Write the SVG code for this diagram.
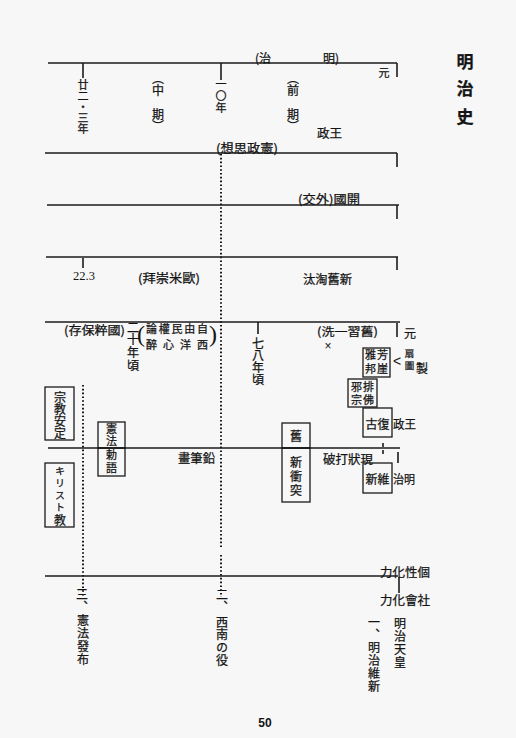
<svg xmlns="http://www.w3.org/2000/svg" width="516" height="738" viewBox="0 0 516 738">
<style>
.t{font-family:"Noto Sans CJK JP","Noto Sans CJK SC",sans-serif;font-size:12px;fill:#141414;stroke:#141414;stroke-width:0.25;dominant-baseline:central}
.v{font-family:"Noto Sans CJK JP","Noto Sans CJK SC",sans-serif;font-size:12px;fill:#141414;stroke:#141414;stroke-width:0.25;writing-mode:vertical-rl}
.m{text-anchor:middle}
.s{font-size:11px}
.ln{stroke:#1b1b1b;stroke-width:1.6;fill:none}
.tk{stroke:#1b1b1b;stroke-width:1.6;fill:none}
.dot{stroke:#1b1b1b;stroke-width:2;stroke-dasharray:1.6 2.2;fill:none}
.box{stroke:#1b1b1b;stroke-width:1.3;fill:none}
.sf{font-family:"Liberation Serif",serif;fill:#141414}
</style>
<rect width="516" height="738" fill="#f7f7f7"/>

<g id="connectors">
  <line class="ln" x1="48" y1="63" x2="397" y2="63"/>
  <line class="tk" x1="397" y1="63" x2="397" y2="77"/>
  <line class="tk" x1="83" y1="63" x2="83" y2="78"/>
  <line class="tk" x1="221" y1="63" x2="221" y2="80"/>
  <line class="ln" x1="45" y1="153" x2="397" y2="153"/>
  <line class="tk" x1="397" y1="153" x2="397" y2="167"/>
  <line class="ln" x1="47" y1="205" x2="399" y2="205"/>
  <line class="tk" x1="397" y1="205" x2="397" y2="219"/>
  <line class="ln" x1="46" y1="257" x2="398" y2="257"/>
  <line class="tk" x1="397" y1="257" x2="397" y2="270"/>
  <line class="tk" x1="83" y1="258" x2="83" y2="268" stroke-width="1"/>
  <line class="ln" x1="45" y1="322" x2="400" y2="322"/>
  <line class="tk" x1="397" y1="323" x2="397" y2="337"/>
  <line class="tk" x1="258" y1="322" x2="258" y2="334"/>
  <line class="ln" x1="48" y1="448" x2="400" y2="448"/>
  <line class="tk" x1="383" y1="443" x2="383" y2="457" stroke-dasharray="4 3" stroke-width="1.2"/>
  <line class="tk" x1="398" y1="452" x2="398" y2="463" stroke-width="1.3"/>
  <line class="ln" x1="45" y1="576" x2="398" y2="576"/>
  <line class="tk" x1="399" y1="577" x2="399" y2="593" stroke-width="1.3"/>
  <line class="dot" x1="221" y1="154" x2="221" y2="548"/>
  <line class="dot" x1="221" y1="555" x2="221" y2="597"/>
  <line class="dot" x1="83" y1="385" x2="83" y2="597"/>
</g>

<g id="title"><text class="v" x="465" y="53" style="font-size:17px;font-weight:bold;letter-spacing:10.5px">明治史</text></g>

<g id="era"><text class="t" x="255" y="57">(治</text><text class="t" x="323" y="57">明)</text><text class="t m s" x="384" y="72">元</text></g>

<g id="y23"><text class="v s" x="83" y="79">廿二・三年</text></g>
<g id="middle"><text class="v" x="158" y="72">（中</text><text class="v" x="158" y="108">期）</text></g>
<g id="y10"><text class="v s" x="221" y="78" style="letter-spacing:1px">一〇年</text></g>
<g id="early"><text class="v" x="293" y="72">（前</text><text class="v" x="293" y="108">期）</text></g>
<g id="oosei1"><text class="t" x="317" y="132" textLength="25" lengthAdjust="spacingAndGlyphs">政王</text></g>
<g id="kensei"><text class="t" x="216" y="147" textLength="62" lengthAdjust="spacingAndGlyphs">(想思政憲)</text></g>
<g id="kaikoku"><text class="t" x="298" y="198" textLength="62" lengthAdjust="spacingAndGlyphs">(交外)國開</text></g>
<g id="d223"><text class="sf" x="73" y="280" style="font-size:12.5px">22.3</text></g>
<g id="obei"><text class="t" x="138" y="277" textLength="62" lengthAdjust="spacingAndGlyphs">(拜崇米歐)</text></g>
<g id="shinkyu"><text class="t" x="303" y="278" textLength="49" lengthAdjust="spacingAndGlyphs">汰淘舊新</text></g>

<g id="kokusui"><text class="t" x="64" y="329" textLength="61" lengthAdjust="spacingAndGlyphs">(存保粹國)</text></g>
<g id="y20"><text class="v" x="133" y="321" style="letter-spacing:0.7px">二十年頃</text></g>
<g id="jiyu">
  <text class="sf m" x="141" y="342" style="font-size:24px">(</text>
  <text class="sf m" x="213" y="342" style="font-size:24px">)</text>
  <text class="t s" x="146" y="328" textLength="62" lengthAdjust="spacing">論權民由自</text>
  <text class="t s" x="146" y="344" textLength="62" lengthAdjust="spacing">醉心洋西</text>
</g>
<g id="y78"><text class="v" x="258" y="337">七八年頃</text></g>
<g id="kyushu"><text class="t" x="317" y="331" style="font-size:11.5px" textLength="61" lengthAdjust="spacingAndGlyphs">(洗一習舊)</text><text class="m" x="328" y="350" style="font-family:'Liberation Sans',sans-serif;font-size:12px;fill:#141414">×</text></g>
<g id="gen2"><text class="t m" x="410" y="332">元</text></g>

<g id="hogai"><rect class="box" x="363" y="348" width="27" height="29"/><text class="v s" x="382.5" y="349.5" style="letter-spacing:3px">芳崖</text><text class="v s" x="370.5" y="349.5" style="letter-spacing:3px">雅邦</text></g>
<g id="ougi"><text x="397" y="366" text-anchor="middle" style="font-family:'Liberation Sans',sans-serif;font-size:14px;fill:#141414">&lt;</text><text class="v" x="409.5" y="349" style="font-size:9.5px;letter-spacing:2px">扇圖</text><text class="t m" x="422" y="367">製</text></g>
<g id="haibutsu"><rect class="box" x="348" y="379" width="29" height="28"/><text class="v s" x="368.5" y="381" style="letter-spacing:2.5px">排佛</text><text class="v s" x="356.5" y="381" style="letter-spacing:2.5px">邪宗</text></g>
<g id="fukko"><rect class="box" x="363" y="408" width="29" height="29"/><text class="t m" x="377.5" y="423">古復</text><text class="t" x="393" y="423" textLength="23" lengthAdjust="spacingAndGlyphs">政王</text></g>

<g id="kyu"><rect class="box" x="282" y="423" width="28" height="25"/><text class="t m" x="296" y="435">舊</text></g>
<g id="shinshototsu"><rect class="box" x="282" y="448" width="28" height="54"/><text class="v" x="296" y="456" style="letter-spacing:2px">新衝突</text></g>
<g id="kenpo"><rect class="box" x="98" y="422" width="27" height="26"/><text class="v s" x="111.5" y="423.5" style="letter-spacing:1px">憲法</text></g>
<g id="chokugo"><rect class="box" x="98" y="448" width="27" height="28"/><text class="v s" x="111.5" y="449.5" style="letter-spacing:2px">勅語</text></g>
<g id="shukyo"><rect class="box" x="45" y="387" width="29" height="53"/><text class="v" x="60" y="391" style="letter-spacing:0.3px">宗教安定</text></g>
<g id="kirisuto"><rect class="box" x="45" y="463" width="29" height="64"/><text class="v" x="60" y="466" style="font-size:10px;letter-spacing:2px">キリスト</text><text class="v" x="60" y="514">教</text></g>
<g id="enpitsu"><text class="t" x="178" y="457" textLength="37" lengthAdjust="spacingAndGlyphs">畫筆鉛</text></g>
<g id="genjo"><text class="t" x="323" y="458" textLength="50" lengthAdjust="spacingAndGlyphs">破打狀現</text></g>
<g id="ishin"><rect class="box" x="363" y="463" width="29" height="30"/><text class="t m" x="377.5" y="478">新維</text><text class="t" x="393" y="478" textLength="22" lengthAdjust="spacingAndGlyphs">治明</text></g>

<g id="kosei"><text class="t" x="380" y="571" textLength="50" lengthAdjust="spacingAndGlyphs">力化性個</text></g>
<g id="shakai"><text class="t" x="380" y="599" textLength="50" lengthAdjust="spacingAndGlyphs">力化會社</text></g>
<g id="tenno"><text class="v" x="400" y="617" style="letter-spacing:1.3px">明治天皇</text></g>
<g id="item1"><text class="v" x="374" y="616">一、</text><text class="v" x="374" y="641" style="letter-spacing:1px">明治維新</text></g>
<g id="item2"><text class="v" x="222" y="588">二、</text><text class="v" x="222" y="616" style="letter-spacing:0.7px">西南の役</text></g>
<g id="item3"><text class="v" x="82" y="588">三、</text><text class="v" x="83" y="614" style="letter-spacing:1.3px">憲法發布</text></g>
<g id="page"><text x="265" y="727" text-anchor="middle" style="font-family:'Liberation Sans',sans-serif;font-size:12px;font-weight:bold;fill:#141414">50</text></g>
</svg>
